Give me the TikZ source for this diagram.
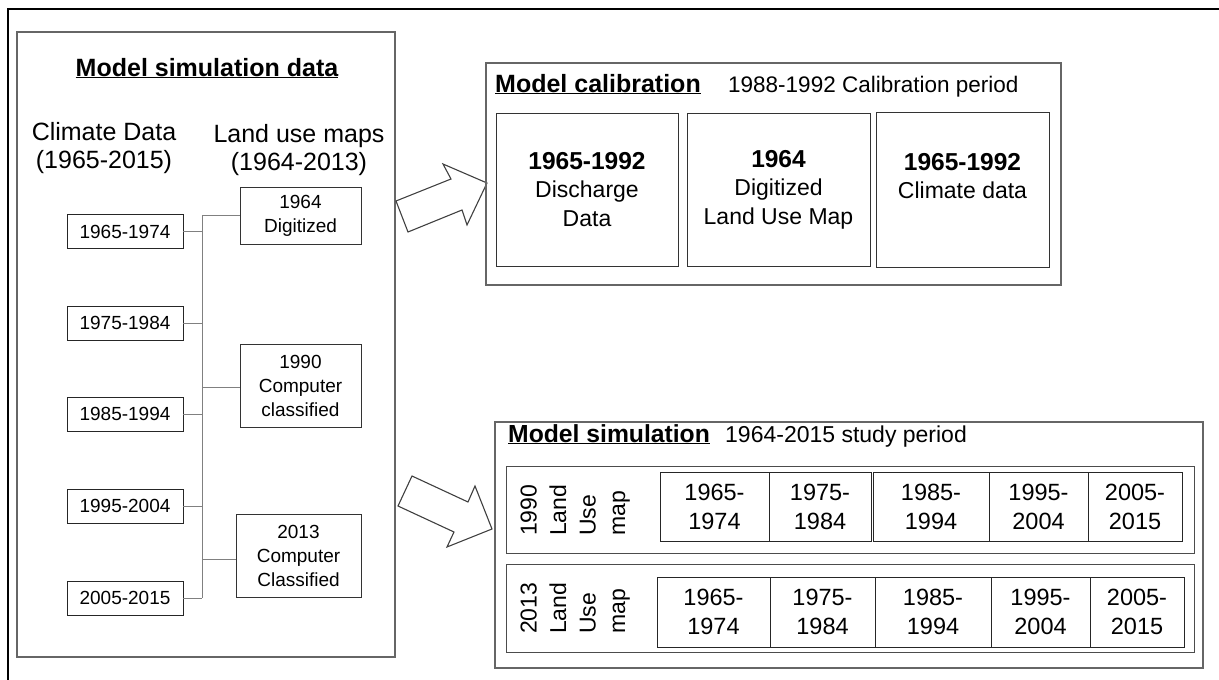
\documentclass[tikz,border=0pt]{standalone}
\usepackage{fontspec}
\setmainfont{Liberation Sans}
\newcommand\fsz[2]{\fontsize{#1}{#2}\selectfont}
\tikzset{
  frameline/.style={draw=black, line width=2pt},
  panel/.style={draw=black!60, line width=1.3pt},
  yearbox/.style={draw=black!85, line width=0.9pt, minimum width=116pt,
    minimum height=34pt, inner sep=0pt, font=\fsz{19}{23}},
  mapbox/.style={draw=black!80, line width=0.9pt, inner sep=0pt, align=center,
    font=\fsz{19}{24}},
  link/.style={draw=black!50, line width=0.8pt},
  headtext/.style={anchor=base, inner sep=0pt, font=\fsz{25}{28}},
  calbox/.style={draw=black!80, line width=1pt, inner sep=0pt, align=center,
    font=\fsz{23}{28.5}},
  rowbox/.style={draw=black!70, line width=1pt},
  cell/.style={draw=black!85, line width=0.9pt, inner sep=0pt, align=center,
    font=\fsz{23.5}{29}},
  rowword/.style={rotate=90, anchor=base west, inner sep=0pt, font=\fsz{23}{28}},
  paneltitle/.style={anchor=base west, inner sep=0pt, font=\fsz{25}{30}\bfseries},
  panelnote/.style={anchor=base west, inner sep=0pt, font=\fsz{22.5}{27}},
  bigarrow/.style={draw=black!75, line width=1.1pt, fill=white, line join=miter},
}
\begin{document}
\begin{tikzpicture}[x=1pt, y=-1pt]
\useasboundingbox (0,0) rectangle (1219,680);

% outer frame (runs off the page at right and bottom)
\draw[frameline] (1219,9) -- (8,9) -- (8,680);

% ---------------- model simulation data ----------------
\draw[panel] (17,32) rectangle (395,657);
\node[anchor=base, inner sep=0pt, font=\fsz{25}{30}\bfseries] (simtitle) at (207,76)
  {\underline{Model simulation data}};
\node[headtext] (climA) at (104,140) {Climate Data};
\node[headtext] (climB) at (104,168) {(1965-2015)};
\node[headtext] (landA) at (299,142) {Land use maps};
\node[headtext] (landB) at (299,170) {(1964-2013)};

\node[yearbox] (y1) at (125,231.5) {1965-1974};
\node[yearbox] (y2) at (125,323)   {1975-1984};
\node[yearbox] (y3) at (125,414)   {1985-1994};
\node[yearbox] (y4) at (125,506)   {1995-2004};
\node[yearbox] (y5) at (125,598)   {2005-2015};

\node[mapbox, minimum width=121pt, minimum height=57pt] (m1) at (300.5,215.5)
  {1964\\Digitized};
\node[mapbox, minimum width=121pt, minimum height=83pt] (m2) at (300.5,385.5)
  {1990\\Computer\\classified};
\node[mapbox, minimum width=125pt, minimum height=83pt] (m3) at (298.5,555.5)
  {2013\\Computer\\Classified};

\coordinate (trunkTop) at (202,215);
\coordinate (trunkBot) at (202,598);
\draw[link] (trunkTop) -- (trunkBot);
\foreach \b in {y1,y2,y3,y4,y5}
  \draw[link] (\b.east) -- (\b.east -| trunkTop);
\draw[link] (m1.west) -- (m1.west -| trunkTop);
\coordinate (m2in) at (240,387);
\coordinate (m3in) at (236,559);
\draw[link] (m2in -| trunkTop) -- (m2in);
\draw[link] (m3in -| trunkTop) -- (m3in);

% ---------------- block arrows ----------------
\draw[bigarrow] (396,201) -- (451,179) -- (443,164) -- (487,183)
  -- (467,225) -- (462,210) -- (408,232) -- cycle;
\draw[bigarrow] (412,476) -- (468,502) -- (475,486) -- (492,529)
  -- (447,547) -- (454,532) -- (398,506) -- cycle;

% ---------------- model calibration ----------------
\draw[panel] (486,63) rectangle (1061,285);
\node[paneltitle] (caltitle) at (495,92) {\underline{Model calibration}};
\node[panelnote] (calnote) at (728,92) {1988-1992 Calibration period};
\node[calbox, minimum width=182pt, minimum height=153pt] (c1) at (587,189.5)
  {\textbf{\fsz{24.5}{28.5}1965-1992}\\Discharge\\Data};
\node[calbox, minimum width=183pt, minimum height=153pt] (c2) at (778.5,189.5)
  {\textbf{\fsz{24.5}{28.5}1964}\\Digitized\\Land Use Map};
\node[calbox, minimum width=173pt, minimum height=155pt] (c3) at (962.5,190)
  {\textbf{\fsz{24.5}{28.5}1965-1992}\\Climate data\\~};

% ---------------- model simulation ----------------
\draw[panel] (495,422) rectangle (1203,668);
\node[paneltitle, font=\fsz{24.7}{30}\bfseries] (simtitleB) at (508,442)
  {\underline{Model simulation}};
\node[panelnote, font=\fsz{23}{27}] (simnote) at (725,442) {1964-2015 study period};

\draw[rowbox] (506,466) rectangle (1194,553);
\draw[rowbox] (506,564) rectangle (1194,652);

% row labels, read bottom to top
\node[rowword] (p1a) at (536.7,536) {1990};
\node[rowword] (p1b) at (566.2,536) {Land};
\node[rowword] (p1c) at (595.7,536) {Use};
\node[rowword] (p1d) at (625.2,536) {map};
\node[rowword] (p2a) at (536.7,634) {2013};
\node[rowword] (p2b) at (566.2,634) {Land};
\node[rowword] (p2c) at (595.7,634) {Use};
\node[rowword] (p2d) at (625.2,634) {map};

\node[cell, minimum width=109pt, minimum height=69pt] (a1) at (714.5,506.5) {1965-\\1974};
\node[cell, minimum width=102pt, minimum height=69pt] (a2) at (820,506.5)   {1975-\\1984};
\node[cell, minimum width=116pt, minimum height=69pt] (a3) at (931,506.5)   {1985-\\1994};
\node[cell, minimum width=99pt,  minimum height=69pt] (a4) at (1038.5,506.5) {1995-\\2004};
\node[cell, minimum width=94pt,  minimum height=69pt] (a5) at (1135,506.5)  {2005-\\2015};

\node[cell, minimum width=113pt, minimum height=70pt] (b1) at (713.5,612) {1965-\\1974};
\node[cell, minimum width=105pt, minimum height=70pt] (b2) at (822.5,612) {1975-\\1984};
\node[cell, minimum width=116pt, minimum height=70pt] (b3) at (933,612)   {1985-\\1994};
\node[cell, minimum width=99pt,  minimum height=70pt] (b4) at (1040.5,612) {1995-\\2004};
\node[cell, minimum width=94pt,  minimum height=70pt] (b5) at (1137,612)  {2005-\\2015};
\end{tikzpicture}
\end{document}
